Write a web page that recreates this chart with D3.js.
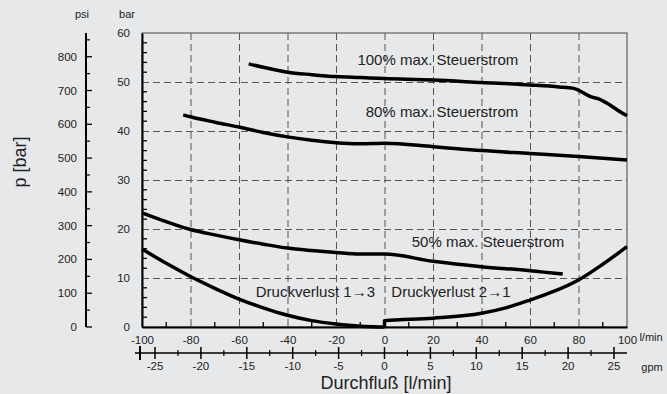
<!DOCTYPE html>
<html>
<head>
<meta charset="utf-8">
<script src="https://cdn.jsdelivr.net/npm/d3@7"></script>
<style>
  body { margin: 0; background: #e7e8ea; }
  svg { display: block; font-family: "Liberation Sans", Arial, sans-serif; }
</style>
</head>
<body>
<div id="chart"></div>
<script>
// flow in l/min, pressure in bar
const flowTicks = [-100, -80, -60, -40, -20, 0, 20, 40, 60, 80, 100];
const gpmTicks = [-25, -20, -15, -10, -5, 0, 5, 10, 15, 20, 25];
const barTicks = [0, 10, 20, 30, 40, 50, 60];
const psiTicks = [0, 100, 200, 300, 400, 500, 600, 700, 800];

const q100 = [-56, -50, -40, -30, -20, -10, 0, 20, 40, 60, 72, 78, 82, 85, 88, 92, 96, 100];
const p100 = [53.7, 53.0, 52.0, 51.5, 51.1, 50.9, 50.7, 50.4, 49.9, 49.4, 49.0, 48.7, 47.8, 47.0, 46.6, 45.6, 44.3, 43.1];

const q80 = [-83, -80, -70, -60, -50, -40, -30, -20, -10, 0, 20, 40, 60, 80, 100];
const p80 = [43.3, 42.9, 41.8, 40.8, 39.7, 38.8, 38.1, 37.6, 37.4, 37.5, 36.8, 36.0, 35.4, 34.8, 34.1];

const q50 = [-100, -90, -80, -70, -60, -50, -40, -30, -20, -10, 0, 20, 40, 60, 73.5];
const p50 = [23.3, 21.5, 19.9, 18.8, 17.8, 16.9, 16.1, 15.6, 15.2, 14.9, 14.9, 13.4, 12.3, 11.5, 10.8];

const q13 = [-100, -90, -80, -70, -60, -50, -40, -30, -20, -10, -5, 0];
const p13 = [15.9, 13.0, 10.3, 7.9, 5.7, 3.9, 2.4, 1.3, 0.6, 0.15, 0.05, 0];

const q21 = [0, 0, 20, 40, 50, 60, 70, 80, 90, 100];
const p21 = [0, 1.3, 1.8, 2.8, 3.9, 5.5, 7.3, 9.6, 12.8, 16.4];

const curveLabels = [
  {text: "100% max. Steuerstrom", q: 22, p: 53.5},
  {text: "80% max. Steuerstrom", q: 23.7, p: 42.9},
  {text: "50% max. Steuerstrom", q: 42.7, p: 16.4},
  {text: "Druckverlust 1\u21923", q: -28.5, p: 6.1},
  {text: "Druckverlust 2\u21921", q: 27.4, p: 6.1}
];

const width = 667, height = 394;
const plot = {left: 142, right: 627, top: 33, bottom: 327};
const BAR_TO_PSI = 14.5038;

const svg = d3.select("#chart").append("svg")
    .attr("width", width)
    .attr("height", height);

const x = d3.scaleLinear().domain([-100, 100]).range([plot.left, plot.right]);
const y = d3.scaleLinear().domain([0, 60]).range([plot.bottom, plot.top]);
const xg = d3.scaleLinear().domain([-100 / 3.78541, 100 / 3.78541]).range([plot.left, plot.right]);
const yp = d3.scaleLinear().domain([0, 60 * BAR_TO_PSI]).range([plot.bottom, plot.top]);

const ink = "#222";
const gridCol = "#555";
const plain = d => String(d);   // keep ASCII hyphen as minus

// frame
svg.append("rect")
  .attr("x", plot.left).attr("y", plot.top)
  .attr("width", plot.right - plot.left).attr("height", plot.bottom - plot.top)
  .attr("fill", "none").attr("stroke", "#444").attr("stroke-width", 1);

// grid
const grid = svg.append("g");
grid.append("g").selectAll("line")
  .data(flowTicks.filter(d => d > -100 && d < 100))
  .join("line")
    .attr("x1", d => x(d) + 0.5).attr("x2", d => x(d) + 0.5)
    .attr("y1", plot.top).attr("y2", plot.bottom)
    .attr("stroke", gridCol).attr("stroke-dasharray", "7,4");
grid.append("g").selectAll("line")
  .data(barTicks.filter(d => d > 0 && d < 60))
  .join("line")
    .attr("x1", plot.left).attr("x2", plot.right)
    .attr("y1", d => y(d) + 0.5).attr("y2", d => y(d) + 0.5)
    .attr("stroke", gridCol).attr("stroke-dasharray", "7,4");

// curves
const line = d3.line()
  .x(d => x(d[0]))
  .y(d => y(d[1]))
  .curve(d3.curveMonotoneX);

const series = [[q100, p100], [q80, p80], [q50, p50], [q13, p13], [q21, p21]];
svg.append("g")
  .selectAll("path")
  .data(series.map(s => s[0].map((q, i) => [q, s[1][i]])))
  .join("path")
    .attr("d", line)
    .attr("fill", "none")
    .attr("stroke", "#000")
    .attr("stroke-width", 3.5)
    .attr("stroke-linejoin", "round");

// curve labels
svg.append("g")
  .selectAll("text")
  .data(curveLabels)
  .join("text")
    .attr("x", d => x(d.q))
    .attr("y", d => y(d.p))
    .attr("text-anchor", "middle")
    .attr("font-size", "15px")
    .attr("fill", ink)
    .text(d => d.text);

// bottom axis l/min
const xAxis = d3.axisBottom(x)
  .tickValues(flowTicks)
  .tickFormat(plain)
  .tickSize(0)
  .tickPadding(9);
svg.append("g")
  .attr("transform", `translate(0, ${plot.bottom})`)
  .call(xAxis)
  .call(g => g.select(".domain").attr("stroke", "#000").attr("stroke-width", 2))
  .call(g => g.selectAll("text").attr("font-size", "11.5px").attr("fill", ink));
svg.append("g")
  .selectAll("line")
  .data(d3.range(-90, 100, 20))
  .join("line")
    .attr("x1", d => x(d)).attr("x2", d => x(d))
    .attr("y1", plot.bottom).attr("y2", plot.bottom - 5)
    .attr("stroke", "#000").attr("stroke-width", 1.3);

// gpm axis
const gpmY = 353;
const gAxis = svg.append("g");
gAxis.append("line")
  .attr("x1", 135).attr("x2", plot.right)
  .attr("y1", gpmY).attr("y2", gpmY)
  .attr("stroke", "#000").attr("stroke-width", 1.5);
gAxis.append("line")
  .attr("x1", 140).attr("x2", 140)
  .attr("y1", gpmY - 7).attr("y2", gpmY + 7)
  .attr("stroke", "#000").attr("stroke-width", 2);
gAxis.append("g").selectAll("line")
  .data(gpmTicks)
  .join("line")
    .attr("x1", d => xg(d)).attr("x2", d => xg(d))
    .attr("y1", gpmY - 6).attr("y2", gpmY + 6)
    .attr("stroke", "#000").attr("stroke-width", 1.5);
gAxis.append("g").selectAll("line")
  .data(d3.range(-22.5, 25, 5))
  .join("line")
    .attr("x1", d => xg(d)).attr("x2", d => xg(d))
    .attr("y1", gpmY - 3).attr("y2", gpmY + 3)
    .attr("stroke", "#000").attr("stroke-width", 1.2);
gAxis.append("g").selectAll("text")
  .data(gpmTicks)
  .join("text")
    .attr("x", d => xg(d))
    .attr("y", 370)
    .attr("text-anchor", "middle")
    .attr("font-size", "11.5px")
    .attr("fill", ink)
    .text(plain);

// bar axis
const yAxis = d3.axisLeft(y)
  .tickValues(barTicks)
  .tickFormat(plain)
  .tickSize(0)
  .tickPadding(12);
svg.append("g")
  .attr("transform", `translate(${plot.left}, 0)`)
  .call(yAxis)
  .call(g => g.select(".domain").attr("stroke", "#000").attr("stroke-width", 2))
  .call(g => g.selectAll("text").attr("font-size", "11.5px").attr("fill", ink));
svg.append("g")
  .selectAll("line")
  .data(d3.range(2, 60, 2).filter(d => d % 10 !== 0))
  .join("line")
    .attr("x1", plot.left).attr("x2", plot.left + 5)
    .attr("y1", d => y(d)).attr("y2", d => y(d))
    .attr("stroke", "#000").attr("stroke-width", 1.3);

// psi axis
const psiX = 86;
const pAxis = svg.append("g");
pAxis.append("line")
  .attr("x1", psiX).attr("x2", psiX)
  .attr("y1", yp(0)).attr("y2", plot.top)
  .attr("stroke", "#000").attr("stroke-width", 2);
pAxis.append("g").selectAll("line")
  .data(psiTicks)
  .join("line")
    .attr("x1", psiX).attr("x2", psiX + 6)
    .attr("y1", d => yp(d)).attr("y2", d => yp(d))
    .attr("stroke", "#000").attr("stroke-width", 1.3);
pAxis.append("g").selectAll("line")
  .data(d3.range(50, 870, 100))
  .join("line")
    .attr("x1", psiX).attr("x2", psiX + 4)
    .attr("y1", d => yp(d)).attr("y2", d => yp(d))
    .attr("stroke", "#000").attr("stroke-width", 1.2);
pAxis.append("g").selectAll("text")
  .data(psiTicks)
  .join("text")
    .attr("x", 77)
    .attr("y", d => yp(d) + 4)
    .attr("text-anchor", "end")
    .attr("font-size", "11.5px")
    .attr("fill", ink)
    .text(plain);

// unit labels
const units = [
  {text: "psi", x: 82, y: 18},
  {text: "bar", x: 127, y: 18},
  {text: "l/min", x: 651, y: 341},
  {text: "gpm", x: 652, y: 371}
];
svg.append("g")
  .selectAll("text")
  .data(units)
  .join("text")
    .attr("x", d => d.x).attr("y", d => d.y)
    .attr("text-anchor", "middle")
    .attr("font-size", "11px")
    .attr("fill", ink)
    .text(d => d.text);

// axis titles
svg.append("text")
  .attr("x", 386).attr("y", 389)
  .attr("text-anchor", "middle")
  .attr("font-size", "18px")
  .attr("fill", ink)
  .text("Durchfluß [l/min]");
svg.append("text")
  .attr("transform", "translate(26, 162) rotate(-90)")
  .attr("text-anchor", "middle")
  .attr("font-size", "18px")
  .attr("fill", ink)
  .text("p [bar]");
</script>
</body>
</html>
